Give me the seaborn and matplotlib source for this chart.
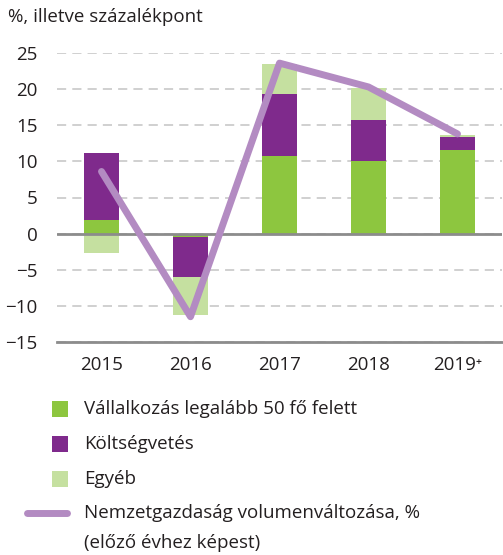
import matplotlib
matplotlib.use("Agg")
import matplotlib.pyplot as plt
import numpy as np
import pandas as pd
import seaborn as sns
from matplotlib.patches import Rectangle
from matplotlib.lines import Line2D

# adatok (leolvasva az ábráról)
years = ["2015", "2016", "2017", "2018", "2019\u207a"]
vallalkozas = [1.9, -0.4, 10.8, 10.1, 11.6]
koltsegvetes = [9.2, -5.6, 8.5, 5.65, 1.8]
egyeb = [-2.7, -5.2, 4.15, 4.35, 0.3]
nemzetgazdasag = [8.6, -11.5, 23.6, 20.3, 13.8]

series_names = ["Vállalkozás legalább 50 fő felett", "Költségvetés", "Egyéb"]
colors = ["#8dc63f", "#7f2a8c", "#c5e0a0"]
line_color = "#b38bc2"
gray = "#8c8c8c"
fs = 13.5

sns.set_style("white")
plt.rcParams["font.family"] = ["Open Sans", "DejaVu Sans"]
plt.rcParams["text.color"] = "#231f20"

W, H = 503, 555
fig = plt.figure(figsize=(W / 100, H / 100), dpi=100)
ax = fig.add_axes([57 / W, 1 - 342 / H, 445 / W, 289 / H])

# halmozott oszlopok, pozitív és negatív részek külön
pos_base = np.zeros(len(years))
neg_base = np.zeros(len(years))
for name, vals, col in zip(series_names, [vallalkozas, koltsegvetes, egyeb], colors):
    vals = np.array(vals, dtype=float)
    bottom = np.where(vals >= 0, pos_base, neg_base)
    df = pd.DataFrame({"year": years, "value": vals})
    sns.barplot(data=df, x="year", y="value", bottom=bottom, color=col,
                saturation=1, width=0.4, errorbar=None, linewidth=0,
                zorder=3, ax=ax)
    pos_base += np.clip(vals, 0, None)
    neg_base += np.clip(vals, None, 0)

ax.axhline(0, color=gray, lw=2, zorder=3.5)

sns.lineplot(x=np.arange(len(years)), y=nemzetgazdasag, color=line_color,
             lw=5, solid_capstyle="round", zorder=4, ax=ax)

ax.set_xlim(-0.5, 4.5)
ax.set_ylim(-15, 25)
ax.set_yticks(range(-15, 26, 5))
ax.set_xticks(range(len(years)))
ax.set_xticklabels(years)
ax.set_xticks(np.arange(-0.5, 5, 1), minor=True)
ax.set_xlabel("")
ax.set_ylabel("")

ax.yaxis.grid(True, linestyle=(0, (6, 4)), color="#c4c4c4", lw=1.1, zorder=0)
ax.set_axisbelow(True)
for s in ["left", "top", "right"]:
    ax.spines[s].set_visible(False)
ax.spines["bottom"].set_color(gray)
ax.spines["bottom"].set_linewidth(2)

ax.tick_params(axis="y", length=0, pad=14, labelsize=fs, labelcolor="#231f20")
ax.tick_params(axis="x", which="major", length=0, pad=10, labelsize=fs,
               labelcolor="#231f20")
ax.tick_params(axis="x", which="minor", length=8, width=2, color=gray,
               direction="out")

fig.text(8 / W, 1 - 17 / H, "%, illetve százalékpont", fontsize=fs, va="center")

# jelmagyarázat
row_y = [408.5, 444, 479]
for name, col, y in zip(series_names, colors, row_y):
    fig.add_artist(Rectangle((52 / W, 1 - (y + 8) / H), 16 / W, 16 / H,
                             transform=fig.transFigure, color=col, lw=0))
    fig.text(84 / W, 1 - y / H, name, fontsize=fs, va="center")
fig.add_artist(Line2D([27 / W, 67 / W], [1 - 513 / H] * 2, lw=5,
                      color=line_color, solid_capstyle="round",
                      transform=fig.transFigure))
fig.text(84 / W, 1 - 513 / H, "Nemzetgazdaság volumenváltozása, %",
         fontsize=fs, va="center")
fig.text(84 / W, 1 - 543 / H, "(előző évhez képest)", fontsize=fs, va="center")

fig.savefig("out.png", dpi=100)
